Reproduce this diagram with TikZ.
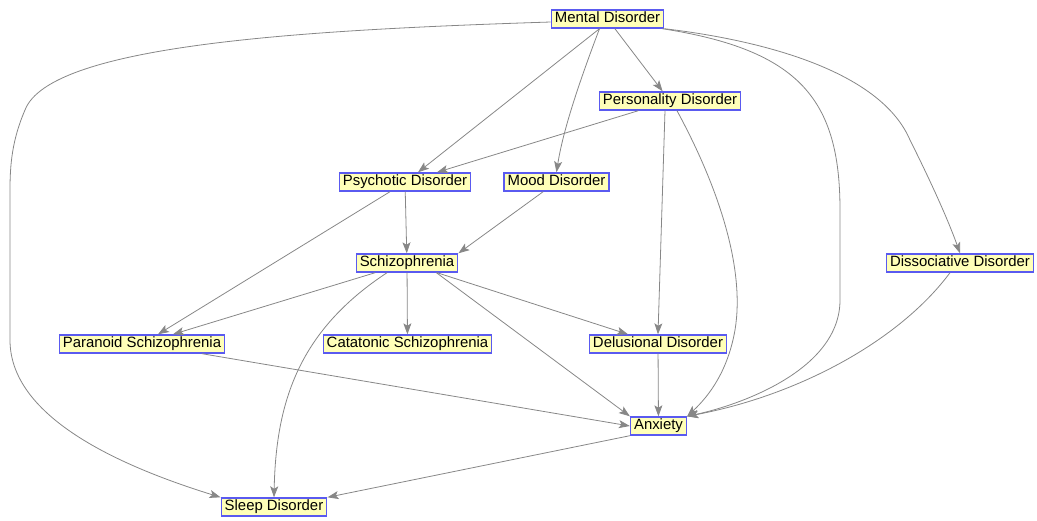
\documentclass[tikz,border=0pt]{standalone}
\usepackage{fontspec}
\setmainfont{Liberation Sans}
\usetikzlibrary{arrows.meta}
\definecolor{boxfill}{HTML}{FFFFB8}
\definecolor{boxline}{HTML}{5A5AF0}
\definecolor{edgegray}{HTML}{878787}
\tikzset{
  dnode/.style={draw=boxline, fill=boxfill, line width=1.4pt,
    font=\fontsize{14.9}{15}\selectfont, inner xsep=3.5pt, inner ysep=0pt,
    minimum height=18pt, text height=11pt, text depth=3.2pt},
  link/.style={draw=edgegray, line width=0.8pt,
    -{Stealth[length=11pt,width=8pt,inset=2.5pt]}}
}
\begin{document}
\begin{tikzpicture}[x=1pt,y=-1pt]
\useasboundingbox (0,0) rectangle (1037,520);
% disorder nodes
\node[dnode] (mental)  at (607.5,19)  {Mental Disorder};
\node[dnode] (person)  at (670,101)   {Personality Disorder};
\node[dnode] (psycho)  at (405,182)   {Psychotic Disorder};
\node[dnode] (mood)    at (556.5,182) {Mood Disorder};
\node[dnode] (schizo)  at (407,263)   {Schizophrenia};
\node[dnode] (dissoc)  at (960,263)   {Dissociative Disorder};
\node[dnode] (paran)   at (142,344)   {Paranoid Schizophrenia};
\node[dnode] (catat)   at (407.5,344) {Catatonic Schizophrenia};
\node[dnode] (delus)   at (658,344)   {Delusional Disorder};
\node[dnode] (anx)     at (658.5,426) {Anxiety};
\node[dnode] (sleep)   at (274,507)   {Sleep Disorder};
% helper points for the long curved links
\coordinate (l1) at (10,190);
\coordinate (l2) at (10,340);
\coordinate (r1) at (840,210);
\coordinate (r2) at (840,300);
% links
\draw[link] (mental) -- (person);
\draw[link] (mental.south) ++(-8,0) -- ([xshift=13pt]psycho.north);
\draw[link] (mental.south) ++(-8,0) .. controls (580,80) and (563,130) .. (mood.north);
\draw[link] (mental.south east) ++(-2,0) .. controls (800,50) and (840,100) .. (r1) -- (r2) .. controls (840,370) and (740,405) .. (anx.north east);
\draw[link] (mental.south east) .. controls (760,40) and (880,70) .. (910,140) .. controls (935,190) and (950,225) .. (dissoc.north);
\draw[link] (mental.west) ++(0,3) .. controls (300,30) and (50,45) .. (25,110) .. controls (12,140) and (10,165) .. (l1) -- (l2) .. controls (10,410) and (100,460) .. (sleep.north west);
\draw[link] (person) -- ([xshift=32pt]psycho.north);
\draw[link] (person.south) ++(-5,0) -- (delus.north);
\draw[link] (person.south) ++(7,0) .. controls (720,190) and (745,270) .. (735,330) .. controls (728,370) and (710,395) .. (anx.north east);
\draw[link] (psycho) -- (schizo);
\draw[link] (psycho.south) ++(-15,0) -- ([xshift=16pt]paran.north);
\draw[link] (mood) -- (schizo.north east);
\draw[link] (schizo) -- ([xshift=31pt]paran.north);
\draw[link] (schizo) -- (catat);
\draw[link] (schizo) -- ([xshift=-30pt]delus.north);
\draw[link] (schizo.south east) ++(-22,0) -- (anx.north west);
\draw[link] (schizo.south) ++(-20,0) .. controls (300,330) and (276,400) .. (sleep.north);
\draw[link] (paran.south) ++(60,0) -- (anx.west);
\draw[link] (delus) -- (anx);
\draw[link] (dissoc.south) ++(-10,0) .. controls (900,340) and (800,395) .. (anx.north east);
\draw[link] (anx.south west) -- (sleep.north east);
\end{tikzpicture}
\end{document}
